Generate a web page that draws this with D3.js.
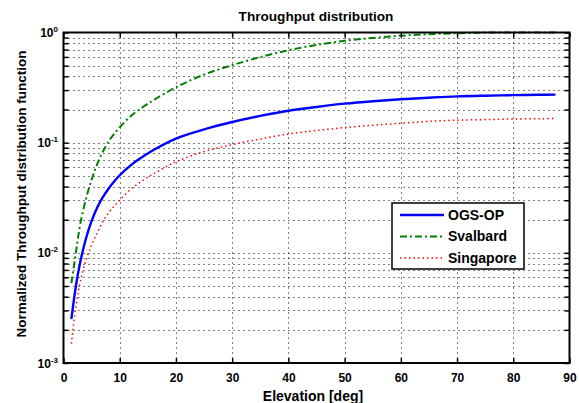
<!DOCTYPE html>
<html>
<head>
<meta charset="utf-8">
<script src="https://cdn.jsdelivr.net/npm/d3@7"></script>
<style>
  html, body { margin: 0; padding: 0; background: #fff; }
  svg { display: block; font-family: "Liberation Sans", Arial, Helvetica, sans-serif; font-weight: bold; }
</style>
</head>
<body>
<svg id="chart" width="579" height="403"></svg>
<script>
// Elevation angles (deg) at which the throughput distribution is sampled
const elevation = [1.4, 2, 2.5, 3, 4, 5, 6, 7, 8, 9, 10, 12, 14, 16, 20, 25, 30, 35, 40, 45, 50, 55, 60, 65, 70, 75, 80, 85, 87.5];

// Normalized throughput distribution per ground station
const ogsOp     = [0.0025, 0.00425, 0.00615, 0.00834, 0.0135, 0.0195, 0.0258, 0.032, 0.0382, 0.0444, 0.0506, 0.0625, 0.0740, 0.0858, 0.109, 0.132, 0.154, 0.175, 0.195, 0.211, 0.226, 0.238, 0.248, 0.256, 0.263, 0.267, 0.270, 0.272, 0.273];
const svalbard  = [0.0053, 0.0085, 0.0128, 0.0185, 0.031, 0.046, 0.064, 0.083, 0.102, 0.120, 0.138, 0.175, 0.2085, 0.243, 0.318, 0.415, 0.505, 0.598, 0.690, 0.770, 0.840, 0.893, 0.935, 0.965, 0.985, 0.998, 1.0, 1.0, 1.0];
const singapore = [0.0015, 0.0027, 0.0040, 0.0055, 0.0086, 0.0118, 0.0152, 0.0193, 0.023, 0.0265, 0.030, 0.038, 0.045, 0.052, 0.067, 0.083, 0.096, 0.108, 0.120, 0.129, 0.137, 0.144, 0.150, 0.156, 0.160, 0.162, 0.164, 0.165, 0.166];

const seriesNames = ["OGS-OP", "Svalbard", "Singapore"];
const xTicks = [0, 10, 20, 30, 40, 50, 60, 70, 80, 90];
const yDecades = [-3, -2, -1, 0];

const series = [
  { name: seriesNames[0], values: ogsOp,     color: "#0000ff", width: 2.4, dash: null },
  { name: seriesNames[1], values: svalbard,  color: "#008000", width: 2,   dash: "7,3,2,3" },
  { name: seriesNames[2], values: singapore, color: "#ff0000", width: 1.5, dash: "1.5,3" }
];

const svg = d3.select("#chart");
const m = { left: 63.5, right: 569.5, top: 32.5, bottom: 363 };

const x = d3.scaleLinear().domain([0, 90]).range([m.left, m.right]);
const y = d3.scaleLog().domain([1e-3, 1]).range([m.bottom, m.top]);

// all log ticks (decades and 2..9 minors)
const logTicks = [];
yDecades.forEach((d, i) => {
  const base = Math.pow(10, d);
  logTicks.push({ v: base, major: true });
  if (i < yDecades.length - 1) for (let k = 2; k <= 9; k++) logTicks.push({ v: k * base, major: false });
});

// dotted grid
const grid = svg.append("g").attr("stroke", "#000").attr("stroke-width", 1).attr("stroke-dasharray", "1,4");
grid.selectAll("line.h").data(logTicks.filter(t => t.v > 1e-3 && t.v < 1)).join("line")
  .attr("x1", m.left).attr("x2", m.right)
  .attr("y1", d => Math.round(y(d.v)) + 0.5).attr("y2", d => Math.round(y(d.v)) + 0.5);
grid.selectAll("line.v").data(xTicks.filter(t => t > 0 && t < 90)).join("line")
  .attr("y1", m.top).attr("y2", m.bottom)
  .attr("x1", d => Math.round(x(d)) + 0.5).attr("x2", d => Math.round(x(d)) + 0.5);

// curves
svg.append("clipPath").attr("id", "plotclip").append("rect")
  .attr("x", m.left).attr("y", m.top - 2).attr("width", m.right - m.left).attr("height", m.bottom - m.top + 2);
const line = d3.line().x((d, i) => x(elevation[i])).y(d => y(d)).curve(d3.curveCatmullRom.alpha(0.5));
const curves = svg.append("g").attr("clip-path", "url(#plotclip)");
series.forEach(s => {
  curves.append("path").datum(s.values)
    .attr("d", line).attr("fill", "none")
    .attr("stroke", s.color).attr("stroke-width", s.width)
    .attr("stroke-dasharray", s.dash);
});

// axes via d3 axis generators, ticks pointing inward
const axB = d3.axisBottom(x).tickValues(xTicks).tickSizeInner(-5).tickSizeOuter(0).tickPadding(10);
const gB = svg.append("g").attr("transform", `translate(0,${m.bottom})`).call(axB);
const gT = svg.append("g").attr("transform", `translate(0,${m.top})`)
  .call(d3.axisTop(x).tickValues(xTicks).tickSizeInner(-5).tickSizeOuter(0).tickFormat(""));
const minorY = logTicks.map(t => t.v);
const gL = svg.append("g").attr("transform", `translate(${m.left},0)`)
  .call(d3.axisLeft(y).tickValues(minorY).tickSizeInner(-5).tickSizeOuter(0).tickFormat(""));
const gR = svg.append("g").attr("transform", `translate(${m.right},0)`)
  .call(d3.axisRight(y).tickValues(minorY).tickSizeInner(-5).tickSizeOuter(0).tickFormat(""));
[gB, gT, gL, gR].forEach(g => {
  g.select(".domain").remove();
  g.selectAll(".tick line").attr("stroke", "#000").attr("stroke-width", 1.5);
});
gB.selectAll(".tick text").attr("font-size", 12).attr("font-weight", "bold")
  .attr("font-family", "'Liberation Sans', Arial, sans-serif").attr("fill", "#000");

// y decade labels 10^n
const yl = svg.append("g");
yDecades.forEach(d => {
  const t = yl.append("text").attr("x", 58).attr("y", y(Math.pow(10, d)) + 4.5)
    .attr("font-size", 12).attr("text-anchor", "end").attr("fill", "#000");
  t.append("tspan").text("10");
  t.append("tspan").attr("font-size", 8).attr("dy", -5).text(String(d));
});

// axes frame
svg.append("rect").attr("x", m.left).attr("y", m.top)
  .attr("width", m.right - m.left).attr("height", m.bottom - m.top)
  .attr("fill", "none").attr("stroke", "#000").attr("stroke-width", 2);

// titles
svg.append("text").attr("x", 316).attr("y", 20.5).attr("text-anchor", "middle")
  .attr("font-size", 13.6).text("Throughput distribution");
svg.append("text").attr("x", 313).attr("y", 401).attr("text-anchor", "middle")
  .attr("font-size", 14).text("Elevation [deg]");
svg.append("text").attr("transform", "translate(26,194) rotate(-90)")
  .attr("text-anchor", "middle").attr("font-size", 13.5)
  .text("Normalized Throughput distribution function");

// legend
const lg = svg.append("g").attr("transform", "translate(392,203)");
lg.append("rect").attr("width", 132).attr("height", 66).attr("fill", "#fff")
  .attr("stroke", "#000").attr("stroke-width", 1.5);
series.forEach((s, i) => {
  const yy = 12 + i * 21.5;
  lg.append("line").attr("x1", 8).attr("x2", 52).attr("y1", yy).attr("y2", yy)
    .attr("stroke", s.color).attr("stroke-width", s.width).attr("stroke-dasharray", s.dash);
  lg.append("text").attr("x", 56).attr("y", yy + 4.5).attr("font-size", 14).text(s.name);
});
</script>
</body>
</html>
